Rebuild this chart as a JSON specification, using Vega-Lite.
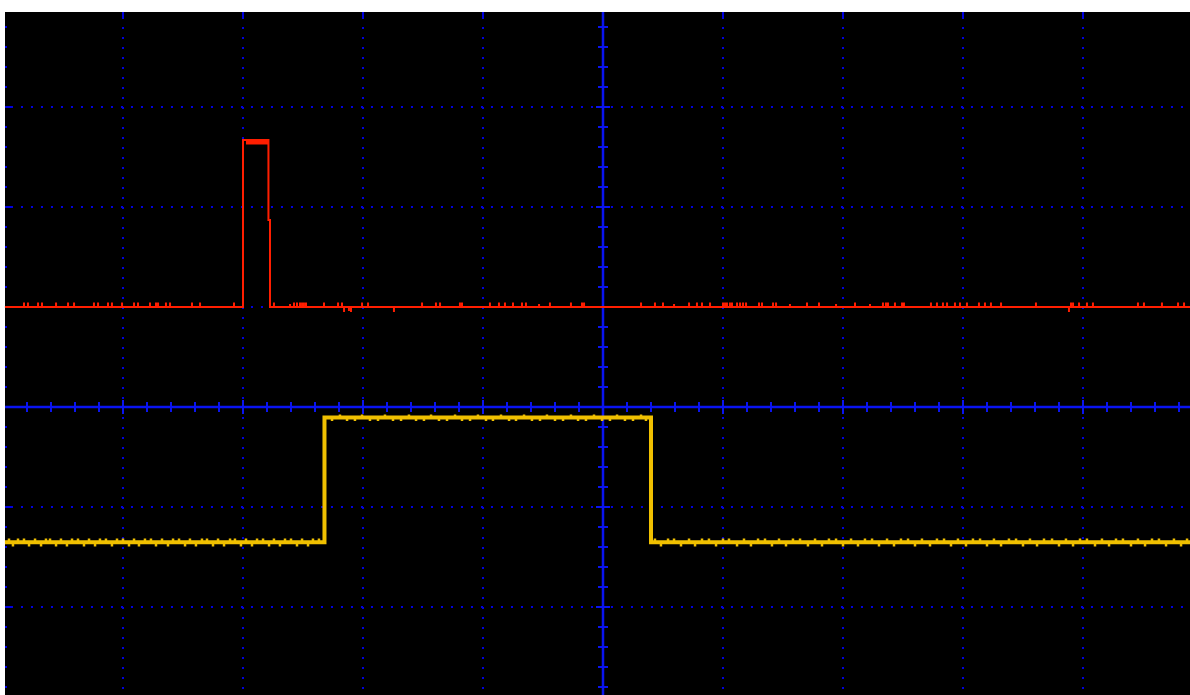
{
"$schema":"https://vega.github.io/schema/vega-lite/v6.json",
"width":1185,"height":683,
"autosize":{"type":"none"},
"padding":{"left":5,"top":12,"right":0,"bottom":0},
"background":"#ffffff",
"view":{"fill":"#000000","stroke":null},
"datasets":{
"ch1":[{"i":0,"t":-4.984,"v":-1.353},{"i":1,"t":-2.321,"v":-1.353},{"i":2,"t":-2.321,"v":-0.105},{"i":3,"t":0.4,"v":-0.105},{"i":4,"t":0.4,"v":-1.353},{"i":5,"t":4.892,"v":-1.353}],
"ch2":[{"i":0,"t":-4.984,"v":1.0},{"i":1,"t":-3.0,"v":1.0},{"i":2,"t":-3.0,"v":2.67},{"i":3,"t":-2.788,"v":2.67},{"i":4,"t":-2.788,"v":1.87},{"i":5,"t":-2.775,"v":1.87},{"i":6,"t":-2.775,"v":1.0},{"i":7,"t":4.892,"v":1.0}],
"band":[{"t":-2.975,"t2":-2.788,"v":2.645}],
"g2":[
{"t":-4.825,"v":1.0,"v2":1.045},{"t":-4.792,"v":1.0,"v2":1.045},{"t":-4.708,"v":1.0,"v2":1.045},{"t":-4.675,"v":1.0,"v2":1.045},{"t":-4.558,"v":1.0,"v2":1.045},{"t":-4.458,"v":1.0,"v2":1.045},{"t":-4.408,"v":1.0,"v2":1.045},{"t":-4.242,"v":1.0,"v2":1.045},{"t":-4.208,"v":1.0,"v2":1.045},{"t":-4.125,"v":1.0,"v2":1.045},{"t":-4.092,"v":1.0,"v2":1.045},{"t":-4.008,"v":1.0,"v2":1.045},{"t":-3.908,"v":1.0,"v2":1.045},{"t":-3.875,"v":1.0,"v2":1.045},{"t":-3.775,"v":1.0,"v2":1.045},{"t":-3.725,"v":1.0,"v2":1.045},{"t":-3.708,"v":1.0,"v2":1.045},{"t":-3.642,"v":1.0,"v2":1.045},{"t":-3.608,"v":1.0,"v2":1.045},{"t":-3.425,"v":1.0,"v2":1.045},{"t":-3.358,"v":1.0,"v2":1.045},{"t":-3.075,"v":1.0,"v2":1.045},
{"t":-2.742,"v":1.0,"v2":1.045},{"t":-2.608,"v":1.0,"v2":1.03},{"t":-2.575,"v":1.0,"v2":1.045},{"t":-2.55,"v":1.0,"v2":1.045},{"t":-2.525,"v":1.0,"v2":1.045},{"t":-2.508,"v":1.0,"v2":1.045},{"t":-2.492,"v":1.0,"v2":1.045},{"t":-2.475,"v":1.0,"v2":1.045},{"t":-2.325,"v":1.0,"v2":1.045},{"t":-2.208,"v":1.0,"v2":1.045},{"t":-2.175,"v":1.0,"v2":1.045},{"t":-2.158,"v":1.0,"v2":0.95},{"t":-2.117,"v":1.0,"v2":0.96},{"t":-2.1,"v":1.0,"v2":0.95},{"t":-2.008,"v":1.0,"v2":1.045},{"t":-1.958,"v":1.0,"v2":1.045},{"t":-1.742,"v":1.0,"v2":0.95},
{"t":-1.508,"v":1.0,"v2":1.045},{"t":-1.392,"v":1.0,"v2":1.045},{"t":-1.358,"v":1.0,"v2":1.045},{"t":-1.192,"v":1.0,"v2":1.045},{"t":-1.175,"v":1.0,"v2":1.045},{"t":-0.942,"v":1.0,"v2":1.045},{"t":-0.867,"v":1.0,"v2":1.045},{"t":-0.817,"v":1.0,"v2":1.045},{"t":-0.75,"v":1.0,"v2":1.045},{"t":-0.675,"v":1.0,"v2":1.045},{"t":-0.642,"v":1.0,"v2":1.045},{"t":-0.533,"v":1.0,"v2":1.03},{"t":-0.442,"v":1.0,"v2":1.045},{"t":-0.267,"v":1.0,"v2":1.045},{"t":-0.175,"v":1.0,"v2":1.045},{"t":-0.158,"v":1.0,"v2":1.045},
{"t":0.317,"v":1.0,"v2":1.045},{"t":0.433,"v":1.0,"v2":1.045},{"t":0.5,"v":1.0,"v2":1.045},{"t":0.592,"v":1.0,"v2":1.03},{"t":0.717,"v":1.0,"v2":1.045},{"t":0.783,"v":1.0,"v2":1.045},{"t":0.825,"v":1.0,"v2":1.045},{"t":0.892,"v":1.0,"v2":1.045},{"t":1.0,"v":1.0,"v2":1.045},{"t":1.017,"v":1.0,"v2":1.045},{"t":1.033,"v":1.0,"v2":1.045},{"t":1.058,"v":1.0,"v2":1.045},{"t":1.075,"v":1.0,"v2":1.045},{"t":1.117,"v":1.0,"v2":1.045},{"t":1.142,"v":1.0,"v2":1.045},{"t":1.167,"v":1.0,"v2":1.045},{"t":1.192,"v":1.0,"v2":1.045},{"t":1.3,"v":1.0,"v2":1.045},{"t":1.325,"v":1.0,"v2":1.045},{"t":1.417,"v":1.0,"v2":1.045},{"t":1.442,"v":1.0,"v2":1.045},{"t":1.558,"v":1.0,"v2":1.03},
{"t":1.7,"v":1.0,"v2":1.045},{"t":1.8,"v":1.0,"v2":1.045},{"t":1.942,"v":1.0,"v2":1.03},{"t":2.1,"v":1.0,"v2":1.045},{"t":2.225,"v":1.0,"v2":1.03},{"t":2.333,"v":1.0,"v2":1.045},{"t":2.358,"v":1.0,"v2":1.045},{"t":2.375,"v":1.0,"v2":1.045},{"t":2.433,"v":1.0,"v2":1.045},{"t":2.492,"v":1.0,"v2":1.045},{"t":2.508,"v":1.0,"v2":1.045},{"t":2.733,"v":1.0,"v2":1.045},{"t":2.783,"v":1.0,"v2":1.045},{"t":2.833,"v":1.0,"v2":1.045},{"t":2.867,"v":1.0,"v2":1.045},{"t":2.933,"v":1.0,"v2":1.045},{"t":2.975,"v":1.0,"v2":1.045},{"t":3.033,"v":1.0,"v2":1.045},{"t":3.133,"v":1.0,"v2":1.045},{"t":3.183,"v":1.0,"v2":1.045},{"t":3.233,"v":1.0,"v2":1.045},{"t":3.317,"v":1.0,"v2":1.045},{"t":3.608,"v":1.0,"v2":1.045},
{"t":3.883,"v":1.0,"v2":0.95},{"t":3.9,"v":1.0,"v2":1.045},{"t":3.917,"v":1.0,"v2":1.045},{"t":3.967,"v":1.0,"v2":1.045},{"t":4.033,"v":1.0,"v2":1.045},{"t":4.083,"v":1.0,"v2":1.045},{"t":4.458,"v":1.0,"v2":1.045},{"t":4.508,"v":1.0,"v2":1.045},{"t":4.658,"v":1.0,"v2":1.045},{"t":4.792,"v":1.0,"v2":1.045},{"t":4.842,"v":1.0,"v2":1.045}],
"g1":[
{"t":-4.95,"v":-1.353,"v2":-1.315},{"t":-4.917,"v":-1.353,"v2":-1.395},{"t":-4.875,"v":-1.353,"v2":-1.315},{"t":-4.825,"v":-1.353,"v2":-1.315},{"t":-4.783,"v":-1.353,"v2":-1.395},{"t":-4.733,"v":-1.353,"v2":-1.315},{"t":-4.683,"v":-1.353,"v2":-1.395},{"t":-4.642,"v":-1.353,"v2":-1.315},{"t":-4.608,"v":-1.353,"v2":-1.315},{"t":-4.558,"v":-1.353,"v2":-1.395},{"t":-4.517,"v":-1.353,"v2":-1.315},{"t":-4.467,"v":-1.353,"v2":-1.395},{"t":-4.425,"v":-1.353,"v2":-1.315},{"t":-4.375,"v":-1.353,"v2":-1.315},{"t":-4.325,"v":-1.353,"v2":-1.395},{"t":-4.283,"v":-1.353,"v2":-1.315},{"t":-4.233,"v":-1.353,"v2":-1.395},{"t":-4.192,"v":-1.353,"v2":-1.315},{"t":-4.142,"v":-1.353,"v2":-1.315},{"t":-4.092,"v":-1.353,"v2":-1.395},{"t":-4.05,"v":-1.353,"v2":-1.315},{"t":-4.0,"v":-1.353,"v2":-1.315},{"t":-3.95,"v":-1.353,"v2":-1.395},{"t":-3.908,"v":-1.353,"v2":-1.315},{"t":-3.867,"v":-1.353,"v2":-1.395},{"t":-3.817,"v":-1.353,"v2":-1.315},{"t":-3.767,"v":-1.353,"v2":-1.315},{"t":-3.725,"v":-1.353,"v2":-1.395},{"t":-3.675,"v":-1.353,"v2":-1.315},{"t":-3.625,"v":-1.353,"v2":-1.395},{"t":-3.583,"v":-1.353,"v2":-1.315},{"t":-3.533,"v":-1.353,"v2":-1.315},{"t":-3.483,"v":-1.353,"v2":-1.395},{"t":-3.442,"v":-1.353,"v2":-1.315},{"t":-3.392,"v":-1.353,"v2":-1.395},{"t":-3.342,"v":-1.353,"v2":-1.315},{"t":-3.3,"v":-1.353,"v2":-1.315},{"t":-3.25,"v":-1.353,"v2":-1.395},{"t":-3.208,"v":-1.353,"v2":-1.315},{"t":-3.158,"v":-1.353,"v2":-1.395},{"t":-3.108,"v":-1.353,"v2":-1.315},{"t":-3.067,"v":-1.353,"v2":-1.315},{"t":-3.017,"v":-1.353,"v2":-1.395},{"t":-2.975,"v":-1.353,"v2":-1.315},{"t":-2.925,"v":-1.353,"v2":-1.395},{"t":-2.883,"v":-1.353,"v2":-1.315},{"t":-2.833,"v":-1.353,"v2":-1.315},{"t":-2.783,"v":-1.353,"v2":-1.395},{"t":-2.742,"v":-1.353,"v2":-1.315},{"t":-2.692,"v":-1.353,"v2":-1.395},{"t":-2.65,"v":-1.353,"v2":-1.315},{"t":-2.6,"v":-1.353,"v2":-1.315},{"t":-2.55,"v":-1.353,"v2":-1.395},{"t":-2.508,"v":-1.353,"v2":-1.315},{"t":-2.458,"v":-1.353,"v2":-1.395},{"t":-2.417,"v":-1.353,"v2":-1.315},{"t":-2.367,"v":-1.353,"v2":-1.315},
{"t":-2.258,"v":-0.105,"v2":-0.14},{"t":-2.192,"v":-0.105,"v2":-0.075},{"t":-2.133,"v":-0.105,"v2":-0.14},{"t":-2.067,"v":-0.105,"v2":-0.14},{"t":-2.008,"v":-0.105,"v2":-0.075},{"t":-1.942,"v":-0.105,"v2":-0.14},{"t":-1.875,"v":-0.105,"v2":-0.14},{"t":-1.817,"v":-0.105,"v2":-0.075},{"t":-1.75,"v":-0.105,"v2":-0.14},{"t":-1.683,"v":-0.105,"v2":-0.14},{"t":-1.617,"v":-0.105,"v2":-0.075},{"t":-1.558,"v":-0.105,"v2":-0.14},{"t":-1.492,"v":-0.105,"v2":-0.14},{"t":-1.433,"v":-0.105,"v2":-0.075},{"t":-1.367,"v":-0.105,"v2":-0.14},{"t":-1.3,"v":-0.105,"v2":-0.14},{"t":-1.233,"v":-0.105,"v2":-0.075},{"t":-1.175,"v":-0.105,"v2":-0.14},{"t":-1.108,"v":-0.105,"v2":-0.14},{"t":-1.042,"v":-0.105,"v2":-0.075},{"t":-0.975,"v":-0.105,"v2":-0.14},{"t":-0.917,"v":-0.105,"v2":-0.14},{"t":-0.85,"v":-0.105,"v2":-0.075},{"t":-0.783,"v":-0.105,"v2":-0.14},{"t":-0.725,"v":-0.105,"v2":-0.14},{"t":-0.658,"v":-0.105,"v2":-0.075},{"t":-0.592,"v":-0.105,"v2":-0.14},{"t":-0.525,"v":-0.105,"v2":-0.14},{"t":-0.467,"v":-0.105,"v2":-0.075},{"t":-0.4,"v":-0.105,"v2":-0.14},{"t":-0.333,"v":-0.105,"v2":-0.14},{"t":-0.267,"v":-0.105,"v2":-0.075},{"t":-0.208,"v":-0.105,"v2":-0.14},{"t":-0.142,"v":-0.105,"v2":-0.14},{"t":-0.075,"v":-0.105,"v2":-0.075},{"t":-0.008,"v":-0.105,"v2":-0.14},{"t":0.058,"v":-0.105,"v2":-0.14},{"t":0.117,"v":-0.105,"v2":-0.075},{"t":0.183,"v":-0.105,"v2":-0.14},{"t":0.25,"v":-0.105,"v2":-0.14},{"t":0.317,"v":-0.105,"v2":-0.075},{"t":0.358,"v":-0.105,"v2":-0.14},
{"t":0.433,"v":-1.353,"v2":-1.315},{"t":0.483,"v":-1.353,"v2":-1.395},{"t":0.542,"v":-1.353,"v2":-1.315},{"t":0.592,"v":-1.353,"v2":-1.315},{"t":0.65,"v":-1.353,"v2":-1.395},{"t":0.717,"v":-1.353,"v2":-1.315},{"t":0.767,"v":-1.353,"v2":-1.395},{"t":0.825,"v":-1.353,"v2":-1.315},{"t":0.883,"v":-1.353,"v2":-1.315},{"t":0.942,"v":-1.353,"v2":-1.395},{"t":1.0,"v":-1.353,"v2":-1.315},{"t":1.05,"v":-1.353,"v2":-1.315},{"t":1.117,"v":-1.353,"v2":-1.395},{"t":1.175,"v":-1.353,"v2":-1.315},{"t":1.233,"v":-1.353,"v2":-1.395},{"t":1.292,"v":-1.353,"v2":-1.315},{"t":1.35,"v":-1.353,"v2":-1.315},{"t":1.408,"v":-1.353,"v2":-1.395},{"t":1.467,"v":-1.353,"v2":-1.315},{"t":1.525,"v":-1.353,"v2":-1.395},{"t":1.583,"v":-1.353,"v2":-1.315},{"t":1.642,"v":-1.353,"v2":-1.315},{"t":1.708,"v":-1.353,"v2":-1.395},{"t":1.767,"v":-1.353,"v2":-1.315},{"t":1.825,"v":-1.353,"v2":-1.395},{"t":1.883,"v":-1.353,"v2":-1.315},{"t":1.942,"v":-1.353,"v2":-1.315},{"t":2.0,"v":-1.353,"v2":-1.395},{"t":2.067,"v":-1.353,"v2":-1.315},{"t":2.125,"v":-1.353,"v2":-1.395},{"t":2.183,"v":-1.353,"v2":-1.315},{"t":2.242,"v":-1.353,"v2":-1.315},{"t":2.3,"v":-1.353,"v2":-1.395},{"t":2.367,"v":-1.353,"v2":-1.315},{"t":2.425,"v":-1.353,"v2":-1.395},{"t":2.483,"v":-1.353,"v2":-1.315},{"t":2.542,"v":-1.353,"v2":-1.315},{"t":2.6,"v":-1.353,"v2":-1.395},{"t":2.658,"v":-1.353,"v2":-1.315},{"t":2.725,"v":-1.353,"v2":-1.395},{"t":2.783,"v":-1.353,"v2":-1.315},{"t":2.842,"v":-1.353,"v2":-1.315},{"t":2.9,"v":-1.353,"v2":-1.395},{"t":2.958,"v":-1.353,"v2":-1.315},{"t":3.025,"v":-1.353,"v2":-1.395},{"t":3.083,"v":-1.353,"v2":-1.315},{"t":3.142,"v":-1.353,"v2":-1.315},{"t":3.2,"v":-1.353,"v2":-1.395},{"t":3.258,"v":-1.353,"v2":-1.315},{"t":3.317,"v":-1.353,"v2":-1.395},{"t":3.383,"v":-1.353,"v2":-1.315},{"t":3.442,"v":-1.353,"v2":-1.315},{"t":3.5,"v":-1.353,"v2":-1.395},{"t":3.558,"v":-1.353,"v2":-1.315},{"t":3.617,"v":-1.353,"v2":-1.395},{"t":3.675,"v":-1.353,"v2":-1.315},{"t":3.742,"v":-1.353,"v2":-1.315},{"t":3.8,"v":-1.353,"v2":-1.395},{"t":3.858,"v":-1.353,"v2":-1.315},{"t":3.917,"v":-1.353,"v2":-1.395},{"t":3.975,"v":-1.353,"v2":-1.315},{"t":4.033,"v":-1.353,"v2":-1.315},{"t":4.1,"v":-1.353,"v2":-1.395},{"t":4.158,"v":-1.353,"v2":-1.315},{"t":4.217,"v":-1.353,"v2":-1.395},{"t":4.275,"v":-1.353,"v2":-1.315},{"t":4.333,"v":-1.353,"v2":-1.315},{"t":4.4,"v":-1.353,"v2":-1.395},{"t":4.458,"v":-1.353,"v2":-1.315},{"t":4.517,"v":-1.353,"v2":-1.395},{"t":4.575,"v":-1.353,"v2":-1.315},{"t":4.633,"v":-1.353,"v2":-1.315},{"t":4.692,"v":-1.353,"v2":-1.395},{"t":4.758,"v":-1.353,"v2":-1.315},{"t":4.817,"v":-1.353,"v2":-1.395},{"t":4.867,"v":-1.353,"v2":-1.315}],
"tm":[{"t":-4.8},{"t":-4.6},{"t":-4.4},{"t":-4.2},{"t":-3.8},{"t":-3.6},{"t":-3.4},{"t":-3.2},{"t":-2.8},{"t":-2.6},{"t":-2.4},{"t":-2.2},{"t":-1.8},{"t":-1.6},{"t":-1.4},{"t":-1.2},{"t":-0.8},{"t":-0.6},{"t":-0.4},{"t":-0.2},{"t":0.2},{"t":0.4},{"t":0.6},{"t":0.8},{"t":1.2},{"t":1.4},{"t":1.6},{"t":1.8},{"t":2.2},{"t":2.4},{"t":2.6},{"t":2.8},{"t":3.2},{"t":3.4},{"t":3.6},{"t":3.8},{"t":4.2},{"t":4.4},{"t":4.6},{"t":4.8}],
"tM":[{"t":-4},{"t":-3},{"t":-2},{"t":-1},{"t":1},{"t":2},{"t":3},{"t":4}],
"vm":[{"v":3.8},{"v":3.6},{"v":3.4},{"v":3.2},{"v":2.8},{"v":2.6},{"v":2.4},{"v":2.2},{"v":1.8},{"v":1.6},{"v":1.4},{"v":1.2},{"v":0.8},{"v":0.6},{"v":0.4},{"v":0.2},{"v":-0.2},{"v":-0.4},{"v":-0.6},{"v":-0.8},{"v":-1.2},{"v":-1.4},{"v":-1.6},{"v":-1.8},{"v":-2.2},{"v":-2.4},{"v":-2.6},{"v":-2.8}],
"vM":[{"v":3},{"v":2},{"v":1},{"v":-1},{"v":-2}],
"zero":[{"t":0,"v":0}]
},
"layer":[
{"data":{"name":"tM"},"mark":{"type":"rule","color":"#0000e0","strokeWidth":2,"strokeDash":[2,8],"strokeDashOffset":5},
 "encoding":{"x":{"field":"t","type":"quantitative","scale":{"domain":[-4.98333,4.89167],"nice":false,"zero":false},"axis":null}}},
{"data":{"name":"vM"},"mark":{"type":"rule","color":"#0000e0","strokeWidth":2,"strokeDash":[2,8],"strokeDashOffset":3},
 "encoding":{"y":{"field":"v","type":"quantitative","scale":{"domain":[-2.88,3.95],"nice":false,"zero":false},"axis":null}}},
{"data":{"name":"zero"},"mark":{"type":"rule","color":"#0a14f0","strokeWidth":2.5},
 "encoding":{"x":{"field":"t","type":"quantitative","scale":{"domain":[-4.98333,4.89167],"nice":false,"zero":false},"axis":null}}},
{"data":{"name":"zero"},"mark":{"type":"rule","color":"#0a14f0","strokeWidth":2.5},
 "encoding":{"y":{"field":"v","type":"quantitative","scale":{"domain":[-2.88,3.95],"nice":false,"zero":false},"axis":null}}},
{"data":{"name":"tm"},"mark":{"type":"rule","color":"#0a14f0","strokeWidth":2},
 "encoding":{"x":{"field":"t","type":"quantitative","scale":{"domain":[-4.98333,4.89167],"nice":false,"zero":false},"axis":null},
 "y":{"datum":-0.05,"type":"quantitative","scale":{"domain":[-2.88,3.95],"nice":false,"zero":false},"axis":null},"y2":{"datum":0.05}}},
{"data":{"name":"tM"},"mark":{"type":"rule","color":"#0a14f0","strokeWidth":2},
 "encoding":{"x":{"field":"t","type":"quantitative","scale":{"domain":[-4.98333,4.89167],"nice":false,"zero":false},"axis":null},
 "y":{"datum":-0.07,"type":"quantitative","scale":{"domain":[-2.88,3.95],"nice":false,"zero":false},"axis":null},"y2":{"datum":0.07}}},
{"data":{"name":"vm"},"mark":{"type":"rule","color":"#0a14f0","strokeWidth":2},
 "encoding":{"y":{"field":"v","type":"quantitative","scale":{"domain":[-2.88,3.95],"nice":false,"zero":false},"axis":null},
 "x":{"datum":-0.04167,"type":"quantitative","scale":{"domain":[-4.98333,4.89167],"nice":false,"zero":false},"axis":null},"x2":{"datum":0.04167}}},
{"data":{"name":"vM"},"mark":{"type":"rule","color":"#0a14f0","strokeWidth":2},
 "encoding":{"y":{"field":"v","type":"quantitative","scale":{"domain":[-2.88,3.95],"nice":false,"zero":false},"axis":null},
 "x":{"datum":-0.0583,"type":"quantitative","scale":{"domain":[-4.98333,4.89167],"nice":false,"zero":false},"axis":null},"x2":{"datum":0.0583}}},
{"data":{"name":"vm"},"mark":{"type":"rule","color":"#0000e0","strokeWidth":2},
 "encoding":{"y":{"field":"v","type":"quantitative","scale":{"domain":[-2.88,3.95],"nice":false,"zero":false},"axis":null},
 "x":{"datum":-4.98333,"type":"quantitative","scale":{"domain":[-4.98333,4.89167],"nice":false,"zero":false},"axis":null},"x2":{"datum":-4.96667}}},
{"data":{"name":"vM"},"mark":{"type":"rule","color":"#0000e0","strokeWidth":2},
 "encoding":{"y":{"field":"v","type":"quantitative","scale":{"domain":[-2.88,3.95],"nice":false,"zero":false},"axis":null},
 "x":{"datum":-4.98333,"type":"quantitative","scale":{"domain":[-4.98333,4.89167],"nice":false,"zero":false},"axis":null},"x2":{"datum":-4.91667}}},
{"data":{"name":"tM"},"mark":{"type":"rule","color":"#0000e0","strokeWidth":2},
 "encoding":{"x":{"field":"t","type":"quantitative","scale":{"domain":[-4.98333,4.89167],"nice":false,"zero":false},"axis":null},
 "y":{"datum":3.95,"type":"quantitative","scale":{"domain":[-2.88,3.95],"nice":false,"zero":false},"axis":null},"y2":{"datum":3.9}}},
{"data":{"name":"ch2"},"mark":{"type":"line","color":"#ff1e00","strokeWidth":2},
 "encoding":{"x":{"field":"t","type":"quantitative","scale":{"domain":[-4.98333,4.89167],"nice":false,"zero":false},"axis":null},
 "y":{"field":"v","type":"quantitative","scale":{"domain":[-2.88,3.95],"nice":false,"zero":false},"axis":null},
 "order":{"field":"i","type":"quantitative"}}},
{"data":{"name":"band"},"mark":{"type":"rule","color":"#ff1e00","strokeWidth":4},
 "encoding":{"x":{"field":"t","type":"quantitative","scale":{"domain":[-4.98333,4.89167],"nice":false,"zero":false},"axis":null},"x2":{"field":"t2"},
 "y":{"field":"v","type":"quantitative","scale":{"domain":[-2.88,3.95],"nice":false,"zero":false},"axis":null}}},
{"data":{"name":"g2"},"mark":{"type":"rule","color":"#ff1e00","strokeWidth":2},
 "encoding":{"x":{"field":"t","type":"quantitative","scale":{"domain":[-4.98333,4.89167],"nice":false,"zero":false},"axis":null},
 "y":{"field":"v","type":"quantitative","scale":{"domain":[-2.88,3.95],"nice":false,"zero":false},"axis":null},"y2":{"field":"v2"}}},
{"data":{"name":"ch1"},"mark":{"type":"line","color":"#f0c000","strokeWidth":4},
 "encoding":{"x":{"field":"t","type":"quantitative","scale":{"domain":[-4.98333,4.89167],"nice":false,"zero":false},"axis":null},
 "y":{"field":"v","type":"quantitative","scale":{"domain":[-2.88,3.95],"nice":false,"zero":false},"axis":null},
 "order":{"field":"i","type":"quantitative"}}},
{"data":{"name":"g1"},"mark":{"type":"rule","color":"#f0c000","strokeWidth":2.5},
 "encoding":{"x":{"field":"t","type":"quantitative","scale":{"domain":[-4.98333,4.89167],"nice":false,"zero":false},"axis":null},
 "y":{"field":"v","type":"quantitative","scale":{"domain":[-2.88,3.95],"nice":false,"zero":false},"axis":null},"y2":{"field":"v2"}}}
]
}
